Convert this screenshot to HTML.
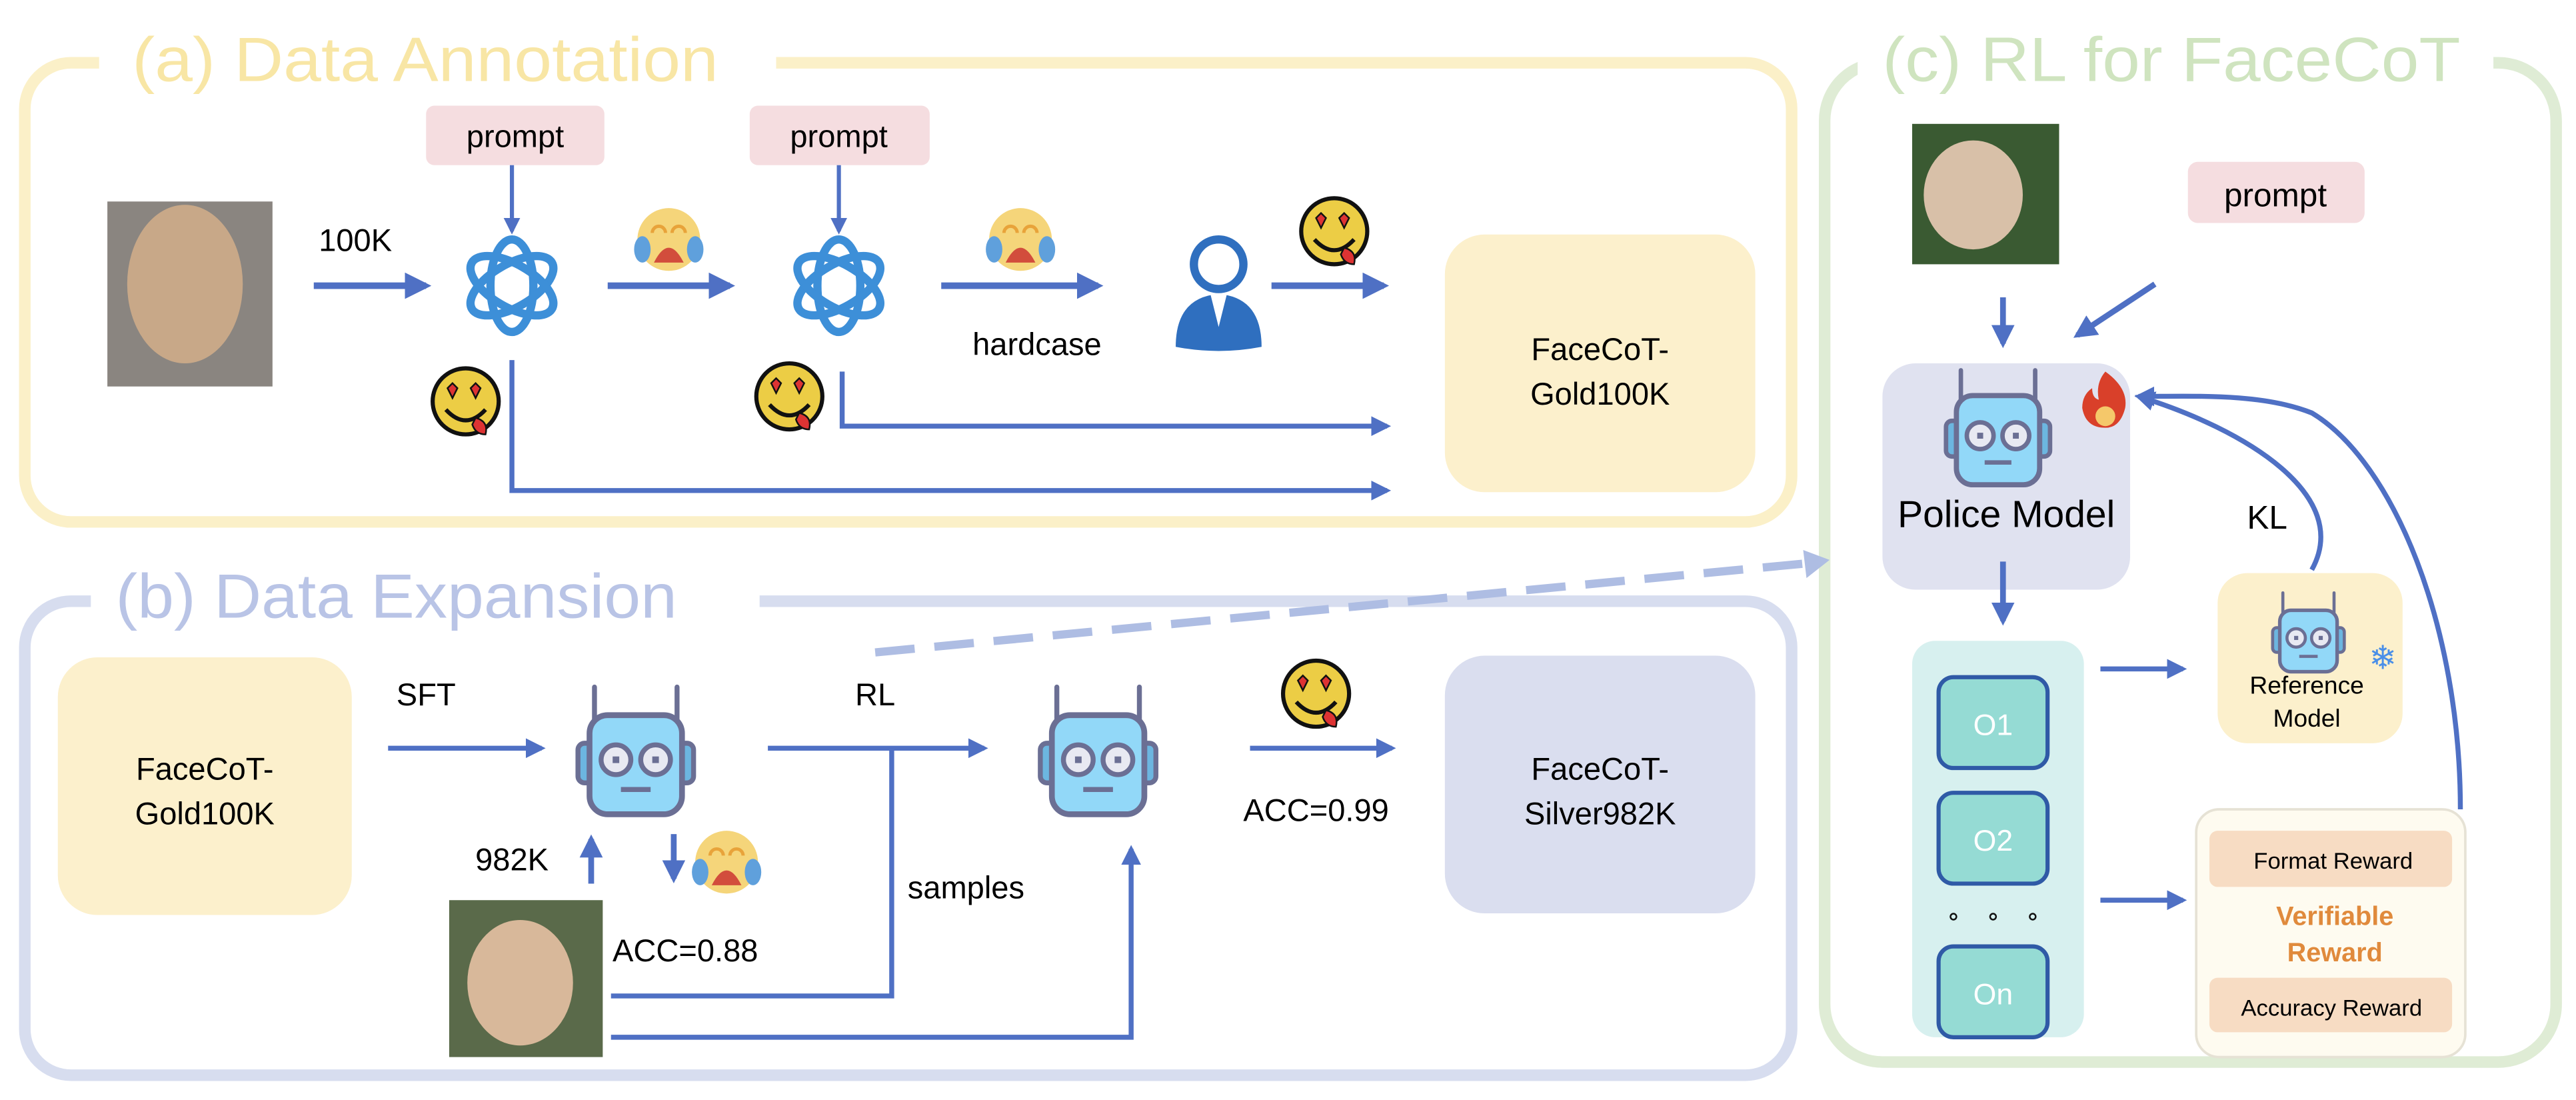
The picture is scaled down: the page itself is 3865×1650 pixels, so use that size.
<!DOCTYPE html>
<html><head><meta charset="utf-8"><style>
html,body{margin:0;padding:0;background:#fff;}
svg{display:block;}
text{font-family:"Liberation Sans","DejaVu Sans",sans-serif;}
</style></head><body>
<svg width="3865" height="1650" viewBox="0 0 1560 666" xmlns="http://www.w3.org/2000/svg">
<defs>
<marker id="ah" viewBox="0 0 10 10" refX="8" refY="5" markerWidth="4" markerHeight="4" orient="auto-start-reverse" markerUnits="strokeWidth">
<path d="M0,0 L10,5 L0,10 z" fill="#4f70c4"/></marker>
<g id="robot">
<line x1="-25" y1="-42" x2="-25" y2="-10" stroke="#6b6f94" stroke-width="3" stroke-linecap="round"/>
<line x1="25" y1="-42" x2="25" y2="-10" stroke="#6b6f94" stroke-width="3" stroke-linecap="round"/>
<rect x="-35" y="-8" width="10" height="24" rx="4" fill="#6cb6e0" stroke="#6b6f94" stroke-width="3"/>
<rect x="25" y="-8" width="10" height="24" rx="4" fill="#6cb6e0" stroke="#6b6f94" stroke-width="3"/>
<rect x="-28" y="-25" width="56" height="60" rx="11" fill="#92d8f8" stroke="#6b6f94" stroke-width="3.5"/>
<circle cx="-12" cy="2" r="9" fill="#e8e9f2" stroke="#6b6f94" stroke-width="3"/>
<circle cx="12" cy="2" r="9" fill="#e8e9f2" stroke="#6b6f94" stroke-width="3"/>
<rect x="-14" y="0" width="4" height="4" fill="#6b6f94"/>
<rect x="10" y="0" width="4" height="4" fill="#6b6f94"/>
<line x1="-9" y1="20" x2="9" y2="20" stroke="#6b6f94" stroke-width="3"/>
</g>
<g id="cry">
<circle cx="0" cy="0" r="19" fill="#f5d57a"/>
<path d="M-10,-4 a4,4 0 0 1 8,0 M2,-4 a4,4 0 0 1 8,0" stroke="#e8a33a" stroke-width="2" fill="none"/>
<ellipse cx="-16" cy="6" rx="5" ry="8" fill="#5fa0dc"/>
<ellipse cx="16" cy="6" rx="5" ry="8" fill="#5fa0dc"/>
<path d="M-9,14 Q0,-4 9,14 z" fill="#d24d3c"/>
</g>
<g id="heart">
<circle cx="0" cy="0" r="20" fill="#eccd45" stroke="#111" stroke-width="2.5"/>
<path d="M-11,-8 l3,-3 l3,3 l-3,6 z M3,-8 l3,-3 l3,3 l-3,6 z" fill="#d33" stroke="#111" stroke-width="1"/>
<path d="M-12,5 Q0,18 12,5" stroke="#111" stroke-width="2.5" fill="none"/>
<path d="M6,10 q8,2 6,10 q-6,0 -8,-6z" fill="#d33" stroke="#111" stroke-width="1"/>
</g>
<g id="oai" fill="none" stroke="#3d8fd8" stroke-width="5">
<ellipse cx="0" cy="0" rx="13" ry="28" transform="rotate(0)"/>
<ellipse cx="0" cy="0" rx="13" ry="28" transform="rotate(60)"/>
<ellipse cx="0" cy="0" rx="13" ry="28" transform="rotate(120)"/>
</g>
</defs>

<!-- Panel a -->
<rect x="15" y="38" width="1070" height="278" rx="28" fill="none" stroke="#fbf0c8" stroke-width="7"/>
<rect x="60" y="12" width="410" height="48" fill="#fff"/>
<text x="80" y="49" font-size="38" fill="#f8e6a5" textLength="355" lengthAdjust="spacingAndGlyphs">(a) Data Annotation</text>

<!-- Panel b -->
<rect x="15" y="364" width="1070" height="287" rx="28" fill="none" stroke="#d7ddef" stroke-width="7"/>
<rect x="55" y="337" width="405" height="48" fill="#fff"/>
<text x="70" y="374" font-size="38" fill="#b9c4e6" textLength="340" lengthAdjust="spacingAndGlyphs">(b) Data Expansion</text>

<!-- Panel c -->
<rect x="1105" y="38" width="443" height="605" rx="35" fill="none" stroke="#dfecd5" stroke-width="7"/>
<rect x="1125" y="12" width="385" height="48" fill="#fff"/>
<text x="1140" y="49" font-size="38" fill="#cfe4bf" textLength="350" lengthAdjust="spacingAndGlyphs">(c) RL for FaceCoT</text>

<!-- Panel a content -->
<rect x="65" y="122" width="100" height="112" fill="#8a8580"/>
<ellipse cx="112" cy="172" rx="35" ry="48" fill="#c8a888"/>
<text x="193" y="152" font-size="19">100K</text>
<line x1="190" y1="173" x2="258" y2="173" stroke="#4f70c4" stroke-width="4" marker-end="url(#ah)"/>
<rect x="258" y="64" width="108" height="36" rx="5" fill="#f5dde0"/>
<text x="312" y="89" font-size="19" text-anchor="middle">prompt</text>
<line x1="310" y1="100" x2="310" y2="140" stroke="#4f70c4" stroke-width="2.5" marker-end="url(#ah)"/>
<use href="#oai" x="310" y="173"/>
<line x1="368" y1="173" x2="442" y2="173" stroke="#4f70c4" stroke-width="4" marker-end="url(#ah)"/>
<use href="#cry" x="405" y="145"/>
<rect x="454" y="64" width="109" height="36" rx="5" fill="#f5dde0"/>
<text x="508" y="89" font-size="19" text-anchor="middle">prompt</text>
<line x1="508" y1="100" x2="508" y2="140" stroke="#4f70c4" stroke-width="2.5" marker-end="url(#ah)"/>
<use href="#oai" x="508" y="173"/>
<line x1="570" y1="173" x2="665" y2="173" stroke="#4f70c4" stroke-width="4" marker-end="url(#ah)"/>
<use href="#cry" x="618" y="145"/>
<text x="628" y="215" font-size="19" text-anchor="middle">hardcase</text>
<circle cx="738" cy="160" r="15" fill="#fff" stroke="#2f6fbf" stroke-width="5"/>
<path d="M712,210 Q712,180 738,178 Q764,180 764,210 Q738,215 712,210z" fill="#2f6fbf"/>
<path d="M733,178 L738,198 L743,178z" fill="#fff"/>
<line x1="770" y1="173" x2="838" y2="173" stroke="#4f70c4" stroke-width="4" marker-end="url(#ah)"/>
<use href="#heart" x="808" y="140"/>
<use href="#heart" x="282" y="243"/>
<polyline points="310,218 310,297 840,297" fill="none" stroke="#4f70c4" stroke-width="3" marker-end="url(#ah)"/>
<use href="#heart" x="478" y="240"/>
<polyline points="510,225 510,258 840,258" fill="none" stroke="#4f70c4" stroke-width="3" marker-end="url(#ah)"/>
<rect x="875" y="142" width="188" height="156" rx="24" fill="#fcf0cc"/>
<text x="969" y="218" font-size="19" text-anchor="middle">FaceCoT-</text>
<text x="969" y="245" font-size="19" text-anchor="middle">Gold100K</text>

<!-- Panel b content -->
<rect x="35" y="398" width="178" height="156" rx="24" fill="#fcf0cc"/>
<text x="124" y="472" font-size="19" text-anchor="middle">FaceCoT-</text>
<text x="124" y="499" font-size="19" text-anchor="middle">Gold100K</text>
<text x="258" y="427" font-size="19" text-anchor="middle">SFT</text>
<line x1="235" y1="453" x2="328" y2="453" stroke="#4f70c4" stroke-width="3" marker-end="url(#ah)"/>
<use href="#robot" transform="translate(385,458)"/>
<text x="530" y="427" font-size="19" text-anchor="middle">RL</text>
<line x1="465" y1="453" x2="596" y2="453" stroke="#4f70c4" stroke-width="3" marker-end="url(#ah)"/>
<polyline points="540,453 540,603 370,603" fill="none" stroke="#4f70c4" stroke-width="3"/>
<text x="585" y="544" font-size="19" text-anchor="middle">samples</text>
<line x1="530" y1="395" x2="1095" y2="341" stroke="#aebde3" stroke-width="5" stroke-dasharray="24,12"/>
<path d="M1092,333 L1108,339 L1094,350z" fill="#aebde3"/>
<line x1="408" y1="505" x2="408" y2="532" stroke="#4f70c4" stroke-width="3.5" marker-end="url(#ah)"/>
<use href="#cry" x="440" y="522"/>
<text x="415" y="582" font-size="19" text-anchor="middle">ACC=0.88</text>
<line x1="358" y1="535" x2="358" y2="508" stroke="#4f70c4" stroke-width="3.5" marker-end="url(#ah)"/>
<text x="310" y="527" font-size="19" text-anchor="middle">982K</text>
<rect x="272" y="545" width="93" height="95" fill="#5a6a4a"/>
<ellipse cx="315" cy="595" rx="32" ry="38" fill="#d8b89a"/>
<polyline points="370,628 685,628 685,514" fill="none" stroke="#4f70c4" stroke-width="3" marker-end="url(#ah)"/>
<use href="#robot" transform="translate(665,458)"/>
<line x1="757" y1="453" x2="843" y2="453" stroke="#4f70c4" stroke-width="3" marker-end="url(#ah)"/>
<use href="#heart" x="797" y="420"/>
<text x="797" y="497" font-size="19" text-anchor="middle">ACC=0.99</text>
<rect x="875" y="397" width="188" height="156" rx="24" fill="#dadeef"/>
<text x="969" y="472" font-size="19" text-anchor="middle">FaceCoT-</text>
<text x="969" y="499" font-size="19" text-anchor="middle">Silver982K</text>

<!-- Panel c content -->
<rect x="1158" y="75" width="89" height="85" fill="#3a5a32"/>
<ellipse cx="1195" cy="118" rx="30" ry="33" fill="#d8c0a8"/>
<rect x="1325" y="98" width="107" height="37" rx="6" fill="#f5dde0"/>
<text x="1378" y="125" font-size="20" text-anchor="middle">prompt</text>
<line x1="1213" y1="180" x2="1213" y2="208" stroke="#4f70c4" stroke-width="3.5" marker-end="url(#ah)"/>
<line x1="1305" y1="172" x2="1258" y2="203" stroke="#4f70c4" stroke-width="3.5" marker-end="url(#ah)"/>
<rect x="1140" y="220" width="150" height="137" rx="20" fill="#e0e2f0"/>
<use href="#robot" transform="translate(1210,262) scale(0.9)"/>
<path d="M1275,225 q14,10 12,22 q-3,12 -12,12 q-12,0 -14,-12 q0,-8 6,-12 q0,6 4,7 q-2,-10 4,-17z" fill="#d9402a"/>
<ellipse cx="1275" cy="252" rx="6" ry="6" fill="#f5c86a"/>
<text x="1215" y="319" font-size="23" text-anchor="middle">Police Model</text>
<line x1="1213" y1="340" x2="1213" y2="376" stroke="#4f70c4" stroke-width="3.5" marker-end="url(#ah)"/>
<rect x="1158" y="388" width="104" height="240" rx="14" fill="#d7f0ef"/>
<rect x="1174" y="410" width="66" height="55" rx="9" fill="#95dbd4" stroke="#2f5aa6" stroke-width="2.5"/>
<text x="1207" y="445" font-size="18" fill="#fff" text-anchor="middle">O1</text>
<rect x="1174" y="480" width="66" height="55" rx="9" fill="#95dbd4" stroke="#2f5aa6" stroke-width="2.5"/>
<text x="1207" y="515" font-size="18" fill="#fff" text-anchor="middle">O2</text>
<circle cx="1183" cy="555" r="1.8" fill="none" stroke="#111" stroke-width="1"/>
<circle cx="1207" cy="555" r="1.8" fill="none" stroke="#111" stroke-width="1"/>
<circle cx="1231" cy="555" r="1.8" fill="none" stroke="#111" stroke-width="1"/>
<rect x="1174" y="573" width="66" height="55" rx="9" fill="#95dbd4" stroke="#2f5aa6" stroke-width="2.5"/>
<text x="1207" y="608" font-size="18" fill="#fff" text-anchor="middle">On</text>
<line x1="1272" y1="405" x2="1322" y2="405" stroke="#4f70c4" stroke-width="3" marker-end="url(#ah)"/>
<line x1="1272" y1="545" x2="1322" y2="545" stroke="#4f70c4" stroke-width="3" marker-end="url(#ah)"/>
<rect x="1343" y="347" width="112" height="103" rx="18" fill="#fcf0cc"/>
<use href="#robot" transform="translate(1398,385) scale(0.62)"/>
<text x="1443" y="405" font-size="20" fill="#4a8fe8" text-anchor="middle">❄</text>
<text x="1397" y="420" font-size="15" text-anchor="middle">Reference</text>
<text x="1397" y="440" font-size="15" text-anchor="middle">Model</text>
<text x="1373" y="320" font-size="20" text-anchor="middle">KL</text>
<path d="M1400,345 C1425,300 1360,260 1295,240" fill="none" stroke="#4f70c4" stroke-width="3" marker-end="url(#ah)"/>
<path d="M1490,490 C1490,380 1450,280 1400,250 C1370,238 1330,240 1295,240" fill="none" stroke="#4f70c4" stroke-width="3" marker-end="url(#ah)"/>
<rect x="1330" y="490" width="163" height="150" rx="14" fill="#fefbf0" stroke="#e6e2d5" stroke-width="1.5"/>
<rect x="1338" y="503" width="147" height="34" rx="5" fill="#f7dcc3"/>
<text x="1413" y="526" font-size="14" text-anchor="middle">Format Reward</text>
<text x="1414" y="560" font-size="16" font-weight="bold" fill="#e08a3c" text-anchor="middle">Verifiable</text>
<text x="1414" y="582" font-size="16" font-weight="bold" fill="#e08a3c" text-anchor="middle">Reward</text>
<rect x="1338" y="592" width="147" height="33" rx="5" fill="#f7dcc3"/>
<text x="1412" y="615" font-size="14" text-anchor="middle">Accuracy Reward</text>
</svg>
</body></html>
